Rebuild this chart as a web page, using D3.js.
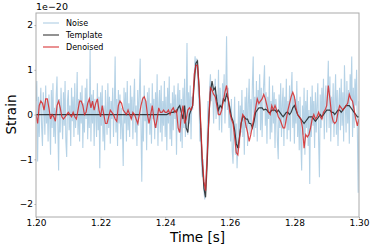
<!DOCTYPE html>
<meta charset="utf-8">
<head>
<style>
body { margin: 0; background: #fff; }
text { font-family: "DejaVu Sans", sans-serif; fill: #000; }
.axis path, .axis line { stroke: #aaa; }
</style>
</head>
<body>
<script src="https://cdn.jsdelivr.net/npm/d3@7"></script>
<script>

// time axis (s) and sampling of the traces
var tStart = 1.20,
    tEnd = 1.30,
    noiseStep = 0.00025,
    signalStep = 0.0005;

var xTicks = [1.20, 1.22, 1.24, 1.26, 1.28, 1.30],
    yTicks = [-2, -1, 0, 1, 2];

var seriesNames = ["Noise", "Template", "Denoised"];

// strain in units of 1e-20
var noise = [
  0.3, 0.75, -1.05, 0.4, -0.5, 0.2, 0.6, -0.3, -0.7, 0.5, 0.1, -0.45, 0.65, -0.2, 0.3, -0.6, 0.45, -0.1, -0.9, 0.55,
  -0.3, 0.7, -0.5, 0.15, -0.65, 0.4, 0.85, -0.2, -1.25, 0.35, -0.4, 0.6, 0.0, -0.55, 0.5, -0.25, 0.75, -0.6, -0.95, 0.3,
  0.55, -0.35, 0.2, -0.7, 0.6, -0.15, 0.4, -0.5, 0.7, -0.3, 0.1, 0.95, -0.45, 0.35, -0.6, 0.5, -0.2, 0.65, -0.75, 0.25,
  -0.4, 0.6, -0.1, 0.8, -0.55, 0.3, -0.3, 1.45, -0.6, 0.45, -0.2, 0.55, -0.7, 0.35, 0.0, -0.5, 0.7, -0.35, 0.4, -1.2,
  0.5, -0.25, 0.65, -0.6, 0.2, -0.8, 0.55, 0.1, -0.45, 0.7, -0.3, 0.4, -0.65, 0.3, -0.1, 0.6, -0.5, 0.2, 1.3, -0.4,
  0.35, -0.7, 0.55, -0.2, 0.45, -0.55, 0.15, -0.3, -1.15, 0.6, -0.2, 0.5, -0.6, 0.75, -0.35, 0.25, -0.5, 0.65, -0.1, 0.4,
  -0.55, 0.3, 0.8, -0.4, 0.2, -0.7, 0.55, -0.25, 0.45, 1.25, -0.3, -1.5, 0.4, -0.6, 0.65, -0.15, 0.3, -0.8, 0.5, -0.2,
  0.6, -0.45, 0.25, -0.65, 0.7, -0.1, 0.35, -0.55, 0.5, -0.3, 0.9, -0.7, 0.2, 0.55, -0.4, 0.65, -0.6, 0.3, -0.25, 0.75,
  -0.5, 0.4, -0.8, 0.6, -0.2, 0.85, -0.55, 0.25, -0.7, 0.5, -0.35, 0.65, -0.1, 0.45, -0.9, 0.3, 0.7, -0.4, 0.55, -0.6,
  0.35, -0.75, 0.6, -0.3, 0.8, -0.5, 0.2, 1.6, -0.45, 0.5, -0.2, 0.65, -0.55, 0.4, 0.1, 0.6, 0.9, 1.3, 1.0, 1.25,
  0.9, 0.5, 0.2, -0.6, -0.3, -1.1, -1.4, -1.0, -1.7, -1.9, -1.5, -1.2, -0.5, 0.3, -0.2, 0.6, 0.9, 0.3, 0.7, 0.4,
  -0.2, 0.5, 0.8, -0.1, 0.45, 0.0, 1.0, -0.35, 0.6, 0.2, -0.4, 0.7, 0.3, 0.9, -0.2, 0.5, 1.75, 0.1, 0.6, -0.3,
  0.2, -0.6, 0.35, -0.8, -1.1, -0.3, 0.4, -0.9, -0.2, -1.2, -0.6, 0.3, -0.75, 0.2, -0.4, 0.55, -0.5, 0.1, -0.9, 0.4,
  -0.3, 0.6, -0.7, 0.25, 0.8, -0.45, 0.35, -0.2, 0.7, 1.3, -0.5, 0.4, -0.3, 0.75, -0.6, 0.55, 0.2, 0.9, -0.35, 0.6,
  -0.5, 0.3, 0.7, 1.1, -0.25, 0.5, -0.65, 0.4, -0.1, 0.85, -0.55, 0.3, -0.4, 0.65, -0.2, 0.5, -0.75, 0.35, 0.1, -0.6,
  -1.0, 0.45, -0.3, 0.7, -0.5, 0.25, 0.6, -0.7, 0.4, -0.2, 0.8, -0.55, 0.3, -0.35, 0.65, -0.6, 0.5, 0.95, -0.3, 0.45,
  -0.65, 0.35, -0.2, 0.75, -0.5, 0.3, -0.8, 0.4, -0.6, -1.25, 0.2, -0.45, 0.6, -0.9, 0.3, -0.3, 0.55, -0.7, 0.1, -1.55,
  0.4, -0.5, 0.65, -0.25, 0.3, -0.75, 0.5, -0.4, 0.2, 0.7, -0.6, -1.4, 0.45, -0.3, 0.6, -0.1, 0.8, -0.55, 0.35, 0.65,
  -0.4, 0.5, 1.2, -0.3, 0.85, -0.6, 0.4, -0.2, 0.7, -0.5, 0.3, 0.9, -0.45, 0.55, -0.7, 0.25, 0.6, -0.35, 0.8, -0.25,
  0.5, -0.6, 1.1, 0.3, -0.4, 0.75, -0.2, 0.55, -0.65, 0.9, 0.35, 1.3, -0.5, 0.6, -0.3, 0.8, 0.2, 1.0, -0.4, -1.75,
  0.3
];

var template = [
  0, 0, 0, 0, 0, 0, 0, 0, 0, 0,
  0, 0, 0, 0, 0, 0, 0, 0, 0, 0,
  0, 0, 0, 0, 0, 0, 0, 0, 0, 0,
  0, 0, 0, 0, 0, 0, 0, 0, 0, 0,
  0, 0, 0, 0, 0, 0, 0, 0, 0, 0,
  0, 0, 0, 0, 0, 0, 0, 0, 0, 0,
  0, 0, 0, 0, 0, 0, 0, 0, 0, 0,
  0, 0, 0, 0, 0, 0, 0, 0, 0, 0,
  0, 0, 0.02, 0.03, 0.05, 0.05, 0.08, 0.05, 0.15, 0.2,
  0.05, -0.1, 0.2, -0.3, -0.4, 0.0, 0.1, 0.2, 0.7, 1.15,
  1.2, 0.6, -0.3, -1.1, -1.65, -1.85, -1.1, -0.1, 0.5, 0.75,
  0.55, 0.6, 0.3, 0.1, 0.2, 0.15, 0.35, 0.3, 0.45, 0.35,
  0.15, -0.05, -0.15, -0.35, -0.65, -0.75, -0.5, -0.2, -0.05, -0.05,
  -0.1, -0.1, -0.2, -0.2, -0.3, -0.15, 0.05, 0.1, 0.15, 0.15,
  0.15, 0.1, 0.12, 0.1, 0.05, 0.05, 0.1, 0.1, 0.1, 0.05,
  0.1, 0.05, 0.0, -0.05, 0.0, 0.05, 0.05, 0.0, 0.05, 0.15,
  0.2, 0.1, 0.0, -0.05, -0.1, -0.15, -0.2, -0.15, -0.1, -0.05,
  -0.05, -0.05, -0.1, -0.15, -0.1, -0.05, 0.0, -0.05, 0.0, 0.05,
  0.1, 0.1, 0.1, 0.05, 0.05, 0.0, 0.05, 0.1, 0.1, 0.05,
  0.1, 0.15, 0.2, 0.2, 0.2, 0.15, 0.1, 0.05, 0.0, -0.05,
  -0.05
];

var denoised = [
  0.0, -0.2, 0.2, 0.3, 0.25, 0.1, 0.35, 0.35, 0.15, -0.1,
  0.0, -0.05, -0.15, 0.2, 0.3, 0.15, -0.05, -0.1, -0.05, 0.0,
  0.05, 0.0, -0.05, 0.05, -0.05, -0.1, 0.1, 0.3, 0.3, 0.2,
  0.0, 0.05, 0.25, 0.35, 0.15, 0.3, 0.1, 0.25, 0.35, 0.1,
  -0.05, 0.2, 0.0, -0.2, -0.2, -0.05, 0.1, 0.05, 0.0, -0.1,
  -0.15, 0.2, 0.3, 0.25, 0.1, 0.05, 0.0, 0.1, 0.0, -0.1,
  0.05, 0.0, -0.1, -0.2, 0.0, 0.2, 0.35, 0.4, 0.3, 0.0,
  -0.2, 0.0, 0.2, -0.1, -0.3, -0.1, 0.15, 0.05, 0.05, 0.1,
  0.05, 0.05, 0.1, 0.0, 0.1, 0.15, 0.05, 0.1, -0.3, -0.4,
  0.0, 0.2, -0.2, -0.1, 0.1, 0.15, 0.1, 0.2, 0.9, 1.1,
  1.1, 0.6, -0.2, -1.0, -1.5, -1.7, -0.9, -0.1, 0.6, 0.55,
  0.45, 0.4, 0.2, 0.0, 0.0, 0.1, 0.3, 0.5, 0.65, 0.35,
  0.05, -0.1, -0.2, -0.5, -0.85, -0.9, -0.55, -0.2, 0.0, -0.05,
  -0.25, -0.4, -0.6, -0.45, -0.25, -0.05, 0.15, 0.35, 0.25, 0.3,
  0.35, 0.45, 0.35, 0.2, 0.05, 0.0, 0.2, 0.1, 0.2, 0.1,
  -0.05, -0.1, -0.2, -0.3, -0.3, -0.1, 0.1, 0.25, 0.4, 0.5,
  0.4, 0.15, 0.0, -0.05, -0.1, -0.3, -0.75, -0.45, -0.5, -0.45,
  -0.3, -0.1, 0.0, -0.1, -0.05, 0.05, -0.05, -0.1, 0.05, 0.1,
  0.2, 0.65, 0.35, 0.0, -0.15, -0.2, -0.15, 0.05, 0.2, 0.15,
  0.1, 0.15, 0.2, 0.25, 0.45, 0.35, 0.3, 0.1, -0.1, -0.25,
  -0.1
];

var width = 374,
    height = 249,
    margin = {top: 13, right: 15, bottom: 32, left: 36};

var x = d3.scaleLinear()
    .domain([tStart, tEnd])
    .range([margin.left, width - margin.right]);

var y = d3.scaleLinear()
    .domain([-2.29, 2.27])
    .range([height - margin.bottom, margin.top]);

var svg = d3.select("body").append("svg")
    .attr("width", width)
    .attr("height", height);

svg.append("clipPath")
    .attr("id", "plot-clip")
  .append("rect")
    .attr("x", margin.left)
    .attr("y", margin.top)
    .attr("width", width - margin.left - margin.right)
    .attr("height", height - margin.top - margin.bottom);

var toPoints = function(values, step) {
  return values.map(function(v, i) { return [tStart + i * step, v]; });
};

var line = d3.line()
    .x(function(d) { return x(d[0]); })
    .y(function(d) { return y(d[1]); });

var plot = svg.append("g").attr("clip-path", "url(#plot-clip)");

plot.append("path")
    .attr("d", line(toPoints(noise, noiseStep)))
    .attr("fill", "none")
    .attr("stroke", "#1f77b4")
    .attr("stroke-opacity", 0.33)
    .attr("stroke-width", 1.1);

plot.append("path")
    .attr("d", line(toPoints(template, signalStep)))
    .attr("fill", "none")
    .attr("stroke", "#000")
    .attr("stroke-opacity", 0.72)
    .attr("stroke-width", 1.2);

plot.append("path")
    .attr("d", line(toPoints(denoised, signalStep)))
    .attr("fill", "none")
    .attr("stroke", "#d62728")
    .attr("stroke-opacity", 0.85)
    .attr("stroke-width", 1.2);

// frame
svg.append("rect")
    .attr("x", margin.left)
    .attr("y", margin.top)
    .attr("width", width - margin.left - margin.right)
    .attr("height", height - margin.top - margin.bottom)
    .attr("fill", "none")
    .attr("stroke", "#aaa")
    .attr("stroke-width", 1);

var xAxis = svg.append("g")
    .attr("class", "axis")
    .attr("transform", "translate(0," + (height - margin.bottom) + ")")
    .call(d3.axisBottom(x).tickValues(xTicks).tickFormat(d3.format(".2f")).tickSizeOuter(0).tickSize(1.5).tickPadding(1.5));

var yAxis = svg.append("g")
    .attr("class", "axis")
    .attr("transform", "translate(" + margin.left + ",0)")
    .call(d3.axisLeft(y).tickValues(yTicks).tickFormat(function(d) { return d < 0 ? "\u2212" + (-d) : d; }).tickSizeOuter(0).tickSize(1.5).tickPadding(1.5));

svg.selectAll(".axis .domain").remove();
svg.selectAll(".axis text")
    .style("font-family", "DejaVu Sans")
    .style("font-size", "9px")
    .attr("fill", "#000");

svg.append("text")
    .attr("x", (x(tStart) + x(tEnd)) / 2)
    .attr("y", 242)
    .attr("text-anchor", "middle")
    .style("font-size", "13.5px")
    .text("Time [s]");

svg.append("text")
    .attr("transform", "translate(16," + y(0) + ") rotate(-90)")
    .attr("text-anchor", "middle")
    .style("font-size", "13.5px")
    .text("Strain");

svg.append("text")
    .attr("x", margin.left)
    .attr("y", 10)
    .style("font-size", "9.5px")
    .text("1e\u221220");

// legend
var legendStyles = [
  {stroke: "#1f77b4", opacity: 0.33},
  {stroke: "#000", opacity: 0.72},
  {stroke: "#d62728", opacity: 0.85}
];

var legend = svg.append("g")
    .selectAll("g")
    .data(seriesNames)
    .enter().append("g")
    .attr("transform", function(d, i) { return "translate(43," + (23 + i * 12) + ")"; });

legend.append("line")
    .attr("x1", 0)
    .attr("x2", 16)
    .attr("stroke", function(d, i) { return legendStyles[i].stroke; })
    .attr("stroke-opacity", function(d, i) { return legendStyles[i].opacity; })
    .attr("stroke-width", 1.2);

legend.append("text")
    .attr("x", 23)
    .attr("dy", "0.35em")
    .style("font-size", "8px")
    .text(function(d) { return d; });

</script>
</body>
